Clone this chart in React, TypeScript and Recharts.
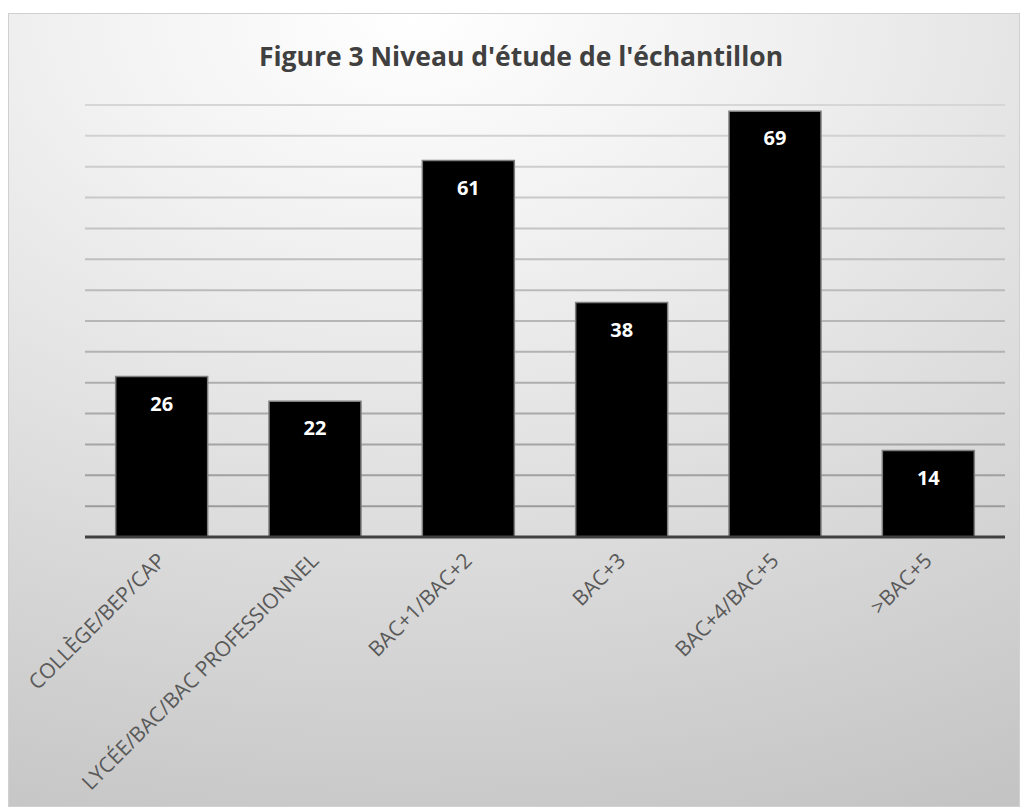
import React from 'react';
import { BarChart, Bar, XAxis, YAxis, CartesianGrid, LabelList } from 'recharts';

const CATEGORIES = [
  'COLLÈGE/BEP/CAP',
  'LYCÉE/BAC/BAC PROFESSIONNEL',
  'BAC+1/BAC+2',
  'BAC+3',
  'BAC+4/BAC+5',
  '>BAC+5',
];
const VALUES = [26, 22, 61, 38, 69, 14];
const Y_TICKS = [0, 5, 10, 15, 20, 25, 30, 35, 40, 45, 50, 55, 60, 65, 70];

const DATA = CATEGORIES.map((name, i) => ({ name, value: VALUES[i] }));

const FONT = '"Open Sans", "Liberation Sans", sans-serif';

const AngledTick = ({ x, y, payload }: any) => (
  <g transform={`translate(${x + 5},${y + 17})`}>
    <text
      x={0}
      y={0}
      textAnchor="end"
      transform="rotate(-45)"
      fill="#595959"
      fontSize={21}
      fontFamily={FONT}
    >
      {payload.value}
    </text>
  </g>
);

export default function App() {
  return (
    <div
      style={{
        position: 'absolute',
        left: 8,
        top: 13,
        width: 1012,
        height: 794,
        border: '1px solid #d0d0d0',
        boxSizing: 'border-box',
        background:
          'radial-gradient(ellipse 130% 110% at 40% 0%, #ffffff 0%, #f2f2f2 25%, #c4c4c4 100%)',
        fontFamily: FONT,
      }}
    >
      <div
        style={{
          position: 'absolute',
          left: 0,
          top: 24,
          width: 1012,
          textAlign: 'center',
          paddingLeft: 12,
          boxSizing: 'border-box',
          fontSize: 26.5,
          fontWeight: 700,
          color: '#404040',
        }}
      >
        Figure 3 Niveau d'étude de l'échantillon
      </div>
      <BarChart
        width={1012}
        height={794}
        data={DATA}
        margin={{ top: 91, right: 16, left: 76, bottom: 0 }}
        barCategoryGap="20%"
      >
        <defs>
          <linearGradient id="gridGrad" gradientUnits="userSpaceOnUse" x1="0" y1="91" x2="0" y2="523">
            <stop offset="0%" stopColor="#d6d6d6" />
            <stop offset="100%" stopColor="#979797" />
          </linearGradient>
        </defs>
        <CartesianGrid vertical={false} stroke="url(#gridGrad)" strokeWidth={2} />
        <YAxis hide width={0} domain={[0, 70]} ticks={Y_TICKS} />
        <XAxis
          dataKey="name"
          height={271}
          interval={0}
          tickLine={false}
          axisLine={{ stroke: '#404040', strokeWidth: 3 }}
          tick={<AngledTick />}
        />
        <Bar dataKey="value" fill="#000000" stroke="#7f7f7f" strokeWidth={1.5} isAnimationActive={false}>
          <LabelList
            dataKey="value"
            position="insideTop"
            offset={20}
            fill="#ffffff"
            fontSize={20}
            fontWeight={700}
            fontFamily={FONT}
          />
        </Bar>
      </BarChart>
    </div>
  );
}
